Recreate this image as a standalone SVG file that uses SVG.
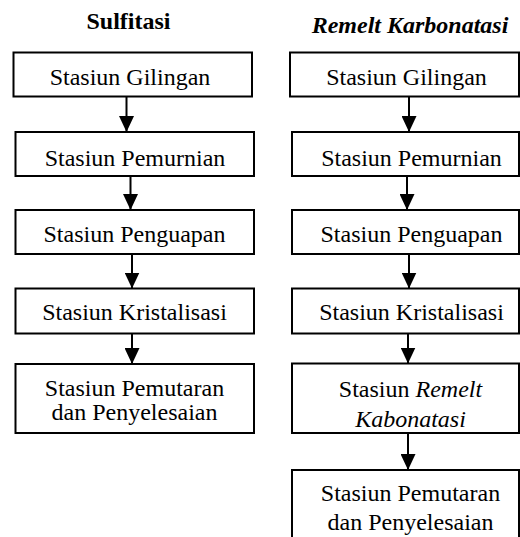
<svg xmlns="http://www.w3.org/2000/svg" width="520" height="537" viewBox="0 0 520 537">
<style>
  .box { fill: #fff; stroke: #000; stroke-width: 2; }
  .t { font-family: "Liberation Serif", "Times New Roman", serif; font-size: 24px; fill: #000; text-anchor: middle; }
  .ti { font-style: italic; }
  .h { font-weight: bold; }
  .c { stroke: #000; stroke-width: 2; fill: none; marker-end: url(#ah); }
</style>
<defs>
  <marker id="ah" markerUnits="userSpaceOnUse" viewBox="0 0 16 15" refX="16" refY="7.5" markerWidth="16" markerHeight="15" orient="auto">
    <path d="M0,0 L16,7.5 L0,15 z" fill="#000"/>
  </marker>
</defs>
<rect width="520" height="537" fill="#fff"/>
<g id="titles">
  <text class="t h" x="128.5" y="29">Sulfitasi</text>
  <text class="t h ti" x="410" y="33">Remelt Karbonatasi</text>
</g>
<g id="connectors">
  <line class="c" x1="126.5" y1="96.5" x2="126.5" y2="132"/>
  <line class="c" x1="130.5" y1="176" x2="130.5" y2="210"/>
  <line class="c" x1="132" y1="254" x2="132" y2="288.5"/>
  <line class="c" x1="132" y1="333.5" x2="132" y2="364"/>
  <line class="c" x1="409" y1="96.5" x2="409" y2="132"/>
  <line class="c" x1="407" y1="176" x2="407" y2="210"/>
  <line class="c" x1="409" y1="254" x2="409" y2="288.5"/>
  <line class="c" x1="408" y1="333.5" x2="408" y2="363.5"/>
  <line class="c" x1="408" y1="433" x2="408" y2="470"/>
</g>
<g id="s1">
  <rect class="box" x="13.5" y="52.5" width="238.5" height="44"/>
  <text class="t" x="130" y="85">Stasiun Gilingan</text>
</g>
<g id="s2">
  <rect class="box" x="15.5" y="132" width="238.5" height="44"/>
  <text class="t" x="135" y="165.5">Stasiun Pemurnian</text>
</g>
<g id="s3">
  <rect class="box" x="15.5" y="210" width="238.5" height="44"/>
  <text class="t" x="134.5" y="242">Stasiun Penguapan</text>
</g>
<g id="s4">
  <rect class="box" x="15.5" y="288.5" width="238.5" height="45"/>
  <text class="t" x="134.5" y="320">Stasiun Kristalisasi</text>
</g>
<g id="s5">
  <rect class="box" x="15.5" y="364" width="238.5" height="69"/>
  <text class="t" x="134.5" y="396">Stasiun Pemutaran</text>
  <text class="t" x="134.5" y="419.5">dan Penyelesaian</text>
</g>
<g id="r1">
  <rect class="box" x="290" y="52.5" width="229" height="44"/>
  <text class="t" x="406.5" y="85">Stasiun Gilingan</text>
</g>
<g id="r2">
  <rect class="box" x="292" y="132" width="227" height="44"/>
  <text class="t" x="411.5" y="165.5">Stasiun Pemurnian</text>
</g>
<g id="r3">
  <rect class="box" x="292" y="210" width="227" height="44"/>
  <text class="t" x="411.5" y="242">Stasiun Penguapan</text>
</g>
<g id="r4">
  <rect class="box" x="292" y="288.5" width="227" height="45"/>
  <text class="t" x="411.5" y="320">Stasiun Kristalisasi</text>
</g>
<g id="r5">
  <rect class="box" x="292" y="363.5" width="227" height="69.5"/>
  <text class="t" x="410.5" y="396.5">Stasiun <tspan class="ti">Remelt</tspan></text>
  <text class="t ti" x="410.5" y="427">Kabonatasi</text>
</g>
<g id="r6">
  <path class="box" d="M292,540 L292,470 L519,470 L519,540"/>
  <text class="t" x="410.5" y="501">Stasiun Pemutaran</text>
  <text class="t" x="410.5" y="530">dan Penyelesaian</text>
</g>
</svg>
